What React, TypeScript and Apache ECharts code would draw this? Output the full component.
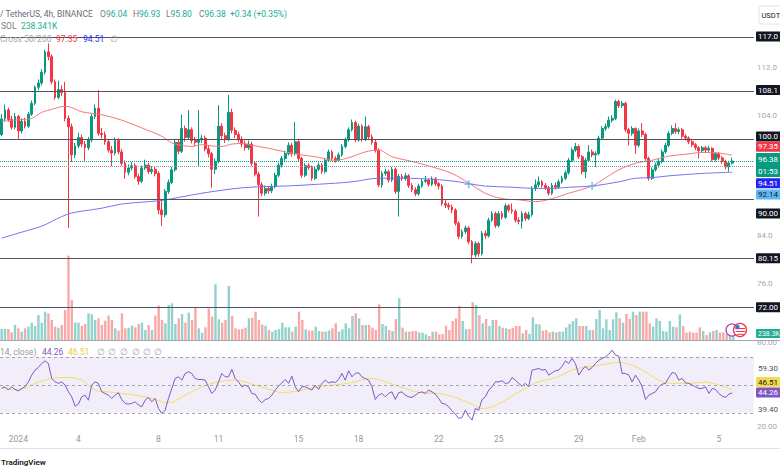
import React, { useEffect, useRef } from "react";
import * as echarts from "echarts";

// ---------- DATA ----------
const startTime = Date.UTC(2023, 11, 31, 4, 0); // first visible 4h candle
const slotCount = 226; // 220 candles + right offset
const firstOpen = 100.8;

const closes = [
  103.4, 104.9, 103.3, 102.0, 103.8, 101.4, 103.0, 102.2, 104.2, 106.0,
  108.7, 109.4, 111.2, 114.6, 113.8, 109.6, 107.0, 108.3, 107.8, 103.5,
  102.1, 97.4, 98.9, 100.3, 99.2, 98.6, 99.9, 103.8, 105.2, 101.0,
  100.8, 99.6, 98.2, 97.7, 99.8, 97.9, 96.0, 94.5, 95.2, 95.6,
  93.8, 93.0, 95.2, 95.7, 94.6, 95.0, 94.3, 88.2, 87.4, 91.3,
  92.8, 94.9, 99.5, 98.0, 101.8, 100.3, 101.6, 99.8, 99.5, 99.9,
  100.2, 98.4, 97.6, 95.0, 96.3, 102.2, 100.6, 100.0, 104.5, 101.5,
  100.8, 100.0, 99.2, 98.6, 99.2, 96.0, 94.2, 92.4, 91.0, 91.8,
  91.4, 92.1, 94.0, 95.7, 96.8, 97.6, 99.0, 97.6, 99.6, 96.8,
  94.0, 95.6, 95.3, 93.5, 95.0, 95.7, 94.6, 96.5, 97.9, 96.8,
  96.5, 97.4, 98.8, 99.9, 101.6, 102.8, 99.9, 102.2, 100.0, 102.1,
  100.4, 99.5, 98.2, 92.4, 94.3, 94.6, 93.2, 95.0, 91.3, 93.8,
  93.4, 93.9, 92.3, 91.6, 90.9, 92.2, 93.0, 93.2, 92.5, 93.4,
  92.6, 92.2, 89.3, 89.0, 88.7, 88.2, 86.0, 83.8, 84.6, 85.2,
  82.9, 80.7, 82.6, 80.9, 84.3, 83.9, 86.5, 87.6, 85.6, 87.6,
  87.0, 88.9, 88.2, 88.0, 86.5, 86.3, 87.6, 86.8, 87.4, 91.8,
  92.4, 92.9, 92.3, 91.9, 91.0, 92.3, 92.0, 92.9, 93.5, 94.4,
  96.5, 98.2, 98.8, 97.1, 94.6, 96.5, 97.9, 97.4, 97.6, 100.2,
  101.8, 102.1, 103.2, 103.5, 106.3, 105.6, 106.0, 101.6, 101.0, 101.8,
  99.0, 101.4, 100.8, 96.8, 93.5, 94.9, 95.7, 96.3, 97.9, 99.0,
  101.0, 101.8, 101.3, 101.6, 100.5, 100.2, 99.6, 99.1, 98.6, 98.1,
  98.6, 98.2, 98.5, 96.6, 97.6, 96.9, 96.3, 95.4, 96.04, 96.38,
];

const highs = [
  104.2, 105.8, 105.3, 103.9, 104.4, 104.1, 103.5, 103.6, 104.6, 106.5,
  109.0, 110.0, 111.7, 114.9, 116.0, 114.2, 110.0, 109.8, 109.0, 109.6,
  104.0, 102.6, 99.4, 101.1, 100.8, 99.7, 100.4, 104.3, 105.8, 108.2,
  101.9, 101.3, 100.1, 98.9, 100.3, 100.2, 98.4, 96.5, 95.8, 96.2,
  96.0, 94.3, 95.6, 96.6, 96.1, 95.5, 95.4, 94.7, 89.9, 91.7,
  93.3, 95.4, 99.9, 99.9, 104.1, 102.3, 104.9, 102.0, 100.4, 104.9,
  100.7, 100.6, 98.9, 97.9, 96.8, 105.7, 102.7, 101.1, 107.4, 105.1,
  102.0, 101.3, 100.5, 99.8, 99.8, 99.6, 96.4, 94.6, 92.9, 92.3,
  92.2, 92.6, 94.4, 96.1, 97.2, 98.1, 99.5, 99.4, 102.9, 100.0,
  97.1, 96.0, 96.0, 95.6, 95.4, 96.1, 96.0, 96.9, 98.3, 98.2,
  97.2, 97.8, 99.2, 100.3, 102.0, 103.3, 103.1, 102.6, 102.5, 103.8,
  102.4, 100.8, 99.9, 98.5, 94.7, 95.1, 94.9, 95.4, 95.3, 94.2,
  94.2, 94.4, 94.2, 92.7, 92.0, 92.6, 93.4, 93.9, 93.5, 93.8,
  93.7, 92.9, 92.5, 90.0, 89.4, 89.1, 88.5, 86.3, 85.0, 85.6,
  85.5, 83.2, 83.0, 82.9, 84.7, 84.8, 86.9, 88.0, 87.9, 88.0,
  88.0, 89.3, 89.2, 89.3, 88.3, 87.0, 88.0, 87.9, 87.9, 92.2,
  93.3, 93.8, 93.2, 92.7, 92.2, 92.7, 92.8, 93.3, 93.9, 94.8,
  96.9, 98.6, 99.4, 99.1, 97.4, 96.9, 99.0, 98.3, 98.0, 100.6,
  102.2, 102.6, 103.8, 104.0, 106.6, 106.6, 106.4, 106.3, 101.9, 102.2,
  102.0, 101.8, 102.7, 101.1, 97.1, 95.3, 96.1, 96.7, 98.3, 99.4,
  101.4, 102.3, 102.7, 102.0, 101.9, 100.9, 100.5, 99.9, 99.4, 98.9,
  98.9, 98.9, 98.9, 98.7, 97.9, 97.9, 97.2, 96.6, 96.4, 96.93,
];

const lows = [
  100.5, 103.0, 102.9, 101.6, 101.7, 99.9, 101.0, 101.8, 101.9, 103.9,
  105.7, 108.2, 109.0, 110.8, 113.2, 109.2, 106.6, 106.7, 107.2, 103.0,
  85.2, 96.2, 96.9, 98.5, 98.7, 96.4, 98.2, 99.5, 103.4, 100.6,
  100.1, 99.1, 97.8, 95.5, 97.3, 97.5, 95.6, 93.4, 94.0, 94.8,
  93.4, 92.4, 92.7, 94.9, 94.2, 94.2, 93.8, 87.5, 85.5, 87.0,
  90.9, 92.5, 94.6, 97.5, 97.7, 99.6, 99.9, 99.3, 98.9, 95.5,
  99.4, 98.0, 97.0, 91.9, 94.2, 96.0, 100.0, 99.4, 99.7, 101.0,
  100.2, 99.5, 98.7, 98.1, 98.2, 95.6, 93.8, 87.1, 90.5, 90.6,
  90.9, 91.0, 91.8, 93.7, 95.3, 96.4, 97.3, 97.1, 97.3, 96.4,
  93.6, 93.7, 94.9, 93.1, 93.2, 94.7, 94.2, 94.3, 96.2, 96.4,
  96.1, 96.2, 97.1, 98.5, 99.6, 101.3, 99.5, 99.6, 99.6, 99.7,
  100.0, 99.1, 97.8, 92.0, 91.9, 93.9, 92.8, 92.9, 90.9, 87.1,
  93.0, 93.1, 91.9, 91.2, 90.5, 90.6, 91.9, 92.7, 92.1, 92.2,
  92.2, 91.6, 88.9, 88.5, 88.2, 87.7, 85.6, 83.3, 83.4, 84.2,
  82.5, 79.3, 80.3, 80.4, 80.6, 83.4, 83.6, 86.2, 85.2, 85.3,
  86.6, 86.7, 87.8, 87.6, 86.1, 85.8, 85.1, 86.4, 86.5, 87.1,
  91.4, 92.0, 91.9, 91.5, 90.6, 90.7, 91.6, 91.7, 92.6, 93.2,
  94.1, 96.2, 97.9, 96.7, 94.2, 93.5, 96.2, 97.0, 95.4, 97.3,
  99.9, 101.4, 101.8, 102.8, 103.2, 105.2, 105.2, 101.2, 99.0, 100.6,
  97.6, 98.7, 100.4, 96.4, 93.1, 93.2, 94.6, 95.3, 96.0, 97.6,
  98.7, 100.7, 100.9, 100.9, 100.1, 99.8, 99.2, 98.7, 98.2, 96.8,
  97.8, 97.8, 97.9, 96.3, 96.3, 96.5, 95.9, 95.0, 94.6, 95.80,
];

// volume in thousands of SOL
const volumes = [
  440, 440, 440, 306, 600, 466, 334, 466, 534, 694,
  560, 1000, 694, 1134, 1066, 800, 534, 494, 600, 1200,
  3374, 1600, 694, 694, 560, 640, 1066, 1026, 800, 866,
  600, 774, 974, 800, 466, 374, 1066, 466, 494, 574,
  506, 640, 694, 400, 600, 400, 974, 1374, 800, 666,
  1400, 1466, 640, 866, 1040, 694, 1094, 800, 1294, 466,
  294, 506, 1266, 934, 2226, 826, 694, 800, 2160, 974,
  466, 426, 440, 494, 866, 894, 1134, 800, 620, 574,
  400, 334, 400, 440, 694, 506, 506, 334, 534, 1134,
  800, 426, 374, 374, 534, 360, 334, 334, 374, 466,
  666, 334, 426, 666, 466, 960, 1066, 866, 600, 600,
  600, 494, 400, 1426, 640, 560, 400, 360, 840, 1666,
  494, 334, 334, 360, 360, 306, 294, 226, 160, 334,
  334, 226, 240, 574, 400, 760, 866, 1360, 760, 440,
  440, 1506, 1400, 1000, 666, 840, 560, 800, 800, 560,
  494, 466, 440, 494, 560, 560, 266, 400, 240, 906,
  640, 626, 374, 400, 306, 334, 306, 334, 334, 506,
  640, 760, 866, 560, 560, 560, 400, 400, 840, 1200,
  466, 826, 400, 826, 1106, 866, 694, 1040, 840, 1134,
  1000, 1134, 1134, 1134, 666, 534, 866, 760, 360, 334,
  760, 534, 506, 1026, 560, 294, 334, 294, 294, 506,
  360, 200, 306, 360, 400, 294, 306, 240, 200, 238.341,
];

const rsiValues = [
  47.4, 48.6, 46.2, 48.6, 46.7, 45.7, 47.4, 48.6, 52.1, 56.9,
  60.5, 62.4, 65.2, 67.1, 65.2, 54.5, 52.1, 51.0, 52.1, 49.8,
  45.0, 41.4, 34.8, 36.2, 41.4, 42.6, 39.0, 49.8, 52.1, 51.0,
  45.0, 43.8, 42.6, 40.2, 42.6, 44.3, 39.5, 36.7, 36.2, 36.7,
  37.9, 35.5, 34.3, 39.0, 41.0, 37.9, 40.2, 33.1, 29.5, 31.9,
  40.2, 47.4, 54.5, 55.7, 53.3, 58.1, 59.3, 58.1, 54.5, 53.8,
  53.8, 53.3, 48.6, 43.8, 46.2, 52.1, 58.1, 55.7, 55.7, 61.0,
  54.5, 52.1, 48.6, 49.8, 48.6, 43.8, 43.3, 39.5, 37.1, 39.5,
  40.2, 42.6, 46.2, 49.0, 51.4, 53.8, 51.0, 56.2, 48.6, 45.0,
  48.6, 48.6, 47.4, 46.2, 49.8, 46.7, 51.0, 53.3, 51.4, 52.1,
  51.7, 53.8, 58.1, 53.3, 60.0, 55.7, 58.1, 58.6, 55.7, 54.5,
  53.3, 48.6, 39.5, 42.6, 43.8, 41.4, 43.8, 45.0, 39.5, 44.3,
  45.0, 42.6, 41.4, 41.0, 42.6, 44.3, 45.0, 43.8, 46.2, 45.0,
  43.3, 40.2, 36.7, 36.2, 34.3, 31.4, 29.0, 26.0, 26.7, 31.9,
  27.6, 24.8, 33.1, 31.9, 39.5, 41.4, 46.2, 48.6, 52.1, 52.1,
  52.9, 51.0, 51.4, 55.2, 53.3, 51.0, 49.0, 51.0, 48.6, 60.5,
  61.0, 61.7, 60.5, 61.0, 56.9, 58.6, 60.0, 60.5, 63.3, 67.1,
  65.2, 68.8, 65.2, 56.9, 60.5, 63.3, 60.5, 62.4, 65.2, 67.6,
  68.8, 70.0, 71.9, 74.8, 71.2, 70.5, 58.1, 58.1, 56.9, 52.1,
  56.9, 53.3, 48.6, 39.5, 42.6, 43.8, 45.0, 48.6, 50.5, 51.0,
  55.2, 58.8, 58.1, 53.3, 54.5, 51.4, 51.0, 49.8, 48.6, 47.4,
  47.4, 48.6, 43.8, 47.4, 46.7, 43.8, 41.9, 41.0, 43.3, 44.26,
];

// [candle index, value]
const rsiMaPoints = [
  [0, 48.6], [5, 46.2], [10, 51.0], [15, 54.5], [20, 55.2], [24, 53.3], [28, 46.2],
  [32, 45.0], [36, 43.8], [40, 42.6], [45, 40.2], [50, 37.1], [55, 42.6], [60, 48.6],
  [65, 52.1], [70, 53.3], [76, 49.8], [81, 46.2], [84, 44.5], [87, 45.0], [91, 46.7],
  [96, 49.0], [101, 50.2], [106, 52.1], [110, 54.5], [113, 53.8], [116, 51.4],
  [121, 47.4], [126, 44.3], [131, 43.8], [136, 41.0], [141, 36.2], [144, 33.1],
  [147, 34.3], [151, 39.0], [156, 46.2], [161, 52.1], [166, 55.0], [171, 60.5],
  [176, 62.9], [181, 64.8], [185, 66.0], [189, 64.0], [193, 59.3], [197, 53.3],
  [201, 51.0], [206, 51.0], [211, 51.9], [215, 49.8], [219, 46.51],
];

const ma50Points = [
  [0, 103.0], [6, 103.3], [9, 103.5], [12, 104.5], [15, 105.0], [19, 105.5], [21, 105.3],
  [24, 104.6], [30, 104.1], [36, 103.2], [42, 101.9], [48, 100.5], [51, 99.4], [54, 99.0],
  [57, 98.8], [60, 99.1], [63, 98.9], [66, 98.8], [69, 99.2], [72, 99.3], [75, 99.0],
  [80, 98.5], [85, 97.9], [90, 97.4], [95, 97.0], [100, 96.5], [105, 97.1], [109, 97.9],
  [113, 98.2], [117, 97.1], [123, 96.3], [129, 95.4], [135, 94.3], [140, 92.7],
  [145, 91.0], [150, 90.1], [155, 89.9], [160, 89.6], [165, 90.1], [170, 91.0],
  [177, 92.2], [180, 93.2], [185, 94.9], [190, 96.0], [195, 96.5], [200, 97.2],
  [205, 97.5], [210, 97.8], [215, 97.7], [219, 97.35],
];

const ma200Points = [
  [0, 83.5], [6, 84.5], [12, 85.5], [18, 87.1], [21, 87.7], [24, 88.0], [30, 88.5],
  [36, 89.2], [42, 89.5], [48, 89.8], [54, 90.4], [60, 91.0], [66, 91.5], [72, 91.9],
  [78, 92.1], [85, 92.2], [95, 92.5], [105, 92.9], [113, 93.5], [120, 93.5], [130, 93.3],
  [137, 92.9], [141, 92.5], [145, 92.2], [153, 92.0], [160, 91.8], [165, 91.8],
  [170, 92.0], [177, 92.2], [185, 92.9], [190, 93.5], [195, 93.6], [200, 93.9],
  [210, 94.3], [219, 94.51],
];

const crossPoints = [[140, 92.5], [177, 92.2]];

const levelValues = [117.0, 108.1, 100.0, 90.0, 80.15, 72.0];
const levelLabels = ["117.0", "108.1", "100.0", "90.00", "80.15", "72.00"];
const lastPrice = 96.38;
const prevCloseLevel = 95.55;

const priceTicks = [76, 84, 104, 112];
const rsiTicks = [20, 80];
const rsiLevels = [70, 50, 30];

const timeTickDates = [
  "2024-01-01", "2024-01-04", "2024-01-08", "2024-01-11", "2024-01-15", "2024-01-18",
  "2024-01-22", "2024-01-25", "2024-01-29", "2024-02-01", "2024-02-05",
];
const timeTickLabels = ["2024", "4", "8", "11", "15", "18", "22", "25", "29", "Feb", "5"];

// ---------- BUILD ----------
const pad = (n: number) => String(n).padStart(2, "0");
const categories = Array.from({ length: slotCount }, (_, k) => {
  const d = new Date(startTime + k * 4 * 3600 * 1000);
  return `${d.getUTCFullYear()}-${pad(d.getUTCMonth() + 1)}-${pad(d.getUTCDate())} ${pad(d.getUTCHours())}:00`;
});
const tickMap = new Map<number, string>();
timeTickDates.forEach((d, j) => tickMap.set(categories.indexOf(d + " 00:00"), timeTickLabels[j]));

const opens = closes.map((c, i) => (i === 0 ? firstOpen : closes[i - 1]));
const candleData = closes.map((c, i) => [opens[i], c, lows[i], highs[i]]);
const volumeData = volumes.map((v, i) => ({
  value: v,
  itemStyle: { color: closes[i] >= opens[i] ? "rgba(38,166,154,0.5)" : "rgba(239,83,80,0.5)" },
}));
const toCat = (pts: number[][]) => pts.map(([i, v]) => [categories[i], v]);

const FONT = 'Roboto, "Noto Sans", sans-serif';
const UP = "#089981";
const DOWN = "#f23645";
const GRID_RIGHT = 25;
const AXIS_X = 780 - GRID_RIGHT;

const T = (x: number, y: number, text: string, fill: string, o: any = {}) => ({
  type: "text",
  x,
  y,
  silent: true,
  z: 100,
  style: {
    text,
    fill,
    fontSize: o.size ?? 8.5,
    fontFamily: FONT,
    fontWeight: o.weight ?? "normal",
    textAlign: o.align ?? "left",
    align: o.align ?? "left",
    textVerticalAlign: "middle",
    verticalAlign: "middle",
  },
});
const BOX = (cy: number, h: number, bg: string) => ({
  type: "rect",
  silent: true,
  z: 99,
  shape: { x: AXIS_X + 1, y: cy - h / 2, width: 30, height: h, r: 1 },
  style: { fill: bg },
});
const LX = AXIS_X + 3;
const AX = (y: number, text: string, color: string, size = 8) => T(LX, y, text, color, { size });

const boxLabels = [
  { y: 36.5, h: 10, bg: "#131722", text: levelLabels[0], color: "#ffffff" },
  { y: 90, h: 10, bg: "#131722", text: levelLabels[1], color: "#ffffff" },
  { y: 136.5, h: 10, bg: "#131722", text: levelLabels[2], color: "#ffffff" },
  { y: 146.8, h: 10, bg: DOWN, text: "97.35", color: "#ffffff" },
  { y: 183.3, h: 10, bg: "#2424f0", text: "94.51", color: "#ffffff" },
  { y: 194.5, h: 10, bg: "#5cb8f2", text: "92.14", color: "#131722" },
  { y: 213.5, h: 10, bg: "#131722", text: levelLabels[3], color: "#ffffff" },
  { y: 258.3, h: 10, bg: "#131722", text: levelLabels[4], color: "#ffffff" },
  { y: 307.3, h: 10, bg: "#131722", text: levelLabels[5], color: "#ffffff" },
  { y: 382, h: 10, bg: "#f5d94e", text: "46.51", color: "#131722" },
  { y: 392.5, h: 10, bg: "#7e57c2", text: "44.26", color: "#ffffff" },
];

const graphics: any[] = [
  // legend
  T(0, 14, "/ TetherUS, 4h, BINANCE", "#6a6d78"),
  T(100, 14, "O", "#787b86"), T(106, 14, "96.04", "#22ab94"),
  T(133, 14, "H", "#787b86"), T(139, 14, "96.93", "#22ab94"),
  T(166, 14, "L", "#787b86"), T(170.5, 14, "95.80", "#22ab94"),
  T(199, 14, "C", "#787b86"), T(204.5, 14, "96.38", "#22ab94"),
  T(230, 14, "+0.34 (+0.35%)", "#22ab94"),
  T(1, 26, "SOL", "#787b86"), T(21, 26, "238.341K", "#22ab94"),
  T(0, 39, "Cross 50/200", "#a3a6af"), T(56, 39, "97.35", DOWN), T(83, 39, "94.51", "#2a2af0"),
  T(110, 39, "∅", "#a3a6af"),
  T(0, 352, "14, close)", "#9598a1"), T(42, 352, "44.26", "#7e57c2"), T(68, 352, "46.51", "#e9cb3c"),
  ...[97, 108, 120, 132, 143, 154].map((x) => T(x, 352, "∅", "#a3a6af")),
  // separators
  { type: "line", silent: true, z: 50, shape: { x1: 0, y1: 340.5, x2: 780, y2: 340.5 }, style: { stroke: "#a3a6af", lineWidth: 1 } },
  { type: "line", silent: true, z: 50, shape: { x1: 0, y1: 448.5, x2: 780, y2: 448.5 }, style: { stroke: "#e0e3eb", lineWidth: 1 } },
  // right axis label boxes
  ...boxLabels.flatMap((b) => [BOX(b.y, b.h, b.bg), AX(b.y, b.text, b.color)]),
  BOX(165, 24, UP),
  AX(159.5, "96.38", "#ffffff"),
  AX(171, "01:53", "#ffffff"),
  BOX(333.5, 9, "#22ab94"),
  AX(333.5, "238.3K", "#ffffff", 7),
  AX(368, "59.30", "#50535e"),
  AX(409, "39.40", "#50535e"),
  // currency button
  { type: "rect", silent: true, z: 99, shape: { x: 759, y: 6, width: 32, height: 18, r: 3 }, style: { fill: "#ffffff", stroke: "#e0e3eb", lineWidth: 1 } },
  T(761.5, 15, "USDT", "#131722", { size: 7.5 }),
  // event icons
  { type: "circle", silent: true, z: 98, shape: { cx: 732, cy: 330, r: 6 }, style: { fill: "#ffffff", stroke: "#ab47bc", lineWidth: 1.3 } },
  { type: "circle", silent: true, z: 98, shape: { cx: 740, cy: 330, r: 6.5 }, style: { fill: "#ffffff", stroke: DOWN, lineWidth: 1.3 } },
  { type: "line", silent: true, z: 99, shape: { x1: 736, y1: 328.5, x2: 745, y2: 328.5 }, style: { stroke: DOWN, lineWidth: 1 } },
  { type: "line", silent: true, z: 99, shape: { x1: 735.5, y1: 331.5, x2: 745.5, y2: 331.5 }, style: { stroke: DOWN, lineWidth: 1 } },
  { type: "line", silent: true, z: 99, shape: { x1: 737, y1: 334.3, x2: 744, y2: 334.3 }, style: { stroke: DOWN, lineWidth: 1 } },
  { type: "rect", silent: true, z: 99, shape: { x: 735.3, y: 325.2, width: 4.2, height: 4 }, style: { fill: "#3c6ee8" } },
  // watermark
  T(1, 462.5, "TradingView", "#131722", { size: 8, weight: 600 }),
];

const hiddenCat = (gridIndex: number) => ({
  type: "category",
  gridIndex,
  data: categories,
  boundaryGap: true,
  axisLine: { show: false },
  axisTick: { show: false },
  axisLabel: { show: false },
  splitLine: { show: false },
});

const option: any = {
  animation: false,
  backgroundColor: "#ffffff",
  grid: [
    { left: 0, right: GRID_RIGHT, top: 19.5, height: 311.5 },
    { left: 0, right: GRID_RIGHT, top: 240, height: 100 },
    { left: 0, right: GRID_RIGHT, top: 341, height: 89 },
  ],
  xAxis: [
    hiddenCat(0),
    hiddenCat(1),
    {
      ...hiddenCat(2),
      axisLabel: {
        show: true,
        interval: (idx: number) => tickMap.has(idx),
        formatter: (_v: string, idx: number) => tickMap.get(idx) ?? "",
        color: "#9598a1",
        fontSize: 8.5,
        fontFamily: FONT,
        margin: 4,
      },
    },
  ],
  yAxis: [
    {
      type: "value",
      gridIndex: 0,
      position: "right",
      min: 68,
      max: 120,
      splitLine: { show: false },
      axisLine: { show: false },
      axisTick: { show: false },
      axisLabel: {
        customValues: priceTicks,
        formatter: (v: number) => v.toFixed(1),
        color: "#a3a6af",
        fontSize: 8,
        fontFamily: FONT,
        margin: 3,
      },
    },
    { type: "value", gridIndex: 1, min: 0, max: 4000, show: false, splitLine: { show: false } },
    {
      type: "value",
      gridIndex: 2,
      position: "right",
      min: 17.7,
      max: 81.3,
      splitLine: { show: false },
      axisLine: { show: false },
      axisTick: { show: false },
      axisLabel: {
        customValues: rsiTicks,
        formatter: (v: number) => v.toFixed(2),
        color: "#a3a6af",
        fontSize: 8,
        fontFamily: FONT,
        margin: 3,
      },
    },
  ],
  series: [
    {
      type: "bar",
      name: "Volume",
      xAxisIndex: 1,
      yAxisIndex: 1,
      data: volumeData,
      barWidth: 2.4,
      z: 1,
      silent: true,
    },
    {
      type: "candlestick",
      name: "SOL/USDT",
      xAxisIndex: 0,
      yAxisIndex: 0,
      data: candleData,
      barWidth: 2.3,
      z: 3,
      silent: true,
      itemStyle: { color: UP, color0: DOWN, borderColor: UP, borderColor0: DOWN, borderWidth: 1 },
      markLine: {
        silent: true,
        symbol: ["none", "none"],
        label: { show: false },
        data: [
          ...levelValues.map((v) => ({ yAxis: v, lineStyle: { color: "#50535e", width: 1.2, type: "solid" } })),
          { yAxis: lastPrice, lineStyle: { color: UP, width: 1, type: "dotted" } },
          { yAxis: prevCloseLevel, lineStyle: { color: "#9598a1", width: 1, type: "dotted" } },
        ],
      },
    },
    {
      type: "line",
      name: "MA50",
      xAxisIndex: 0,
      yAxisIndex: 0,
      data: toCat(ma50Points),
      smooth: 0.35,
      showSymbol: false,
      silent: true,
      z: 4,
      lineStyle: { color: "#f5777b", width: 1 },
    },
    {
      type: "line",
      name: "MA200",
      xAxisIndex: 0,
      yAxisIndex: 0,
      data: toCat(ma200Points),
      smooth: 0.35,
      showSymbol: false,
      silent: true,
      z: 4,
      lineStyle: { color: "#7474f4", width: 1 },
    },
    {
      type: "scatter",
      name: "Cross",
      xAxisIndex: 0,
      yAxisIndex: 0,
      data: toCat(crossPoints),
      symbol: "path://M4,0 H6 V4 H10 V6 H6 V10 H4 V6 H0 V4 H4 Z",
      symbolSize: 8,
      silent: true,
      z: 5,
      itemStyle: { color: "#5db5f0" },
    },
    {
      type: "line",
      name: "RSI",
      xAxisIndex: 2,
      yAxisIndex: 2,
      data: rsiValues,
      showSymbol: false,
      silent: true,
      z: 4,
      lineStyle: { color: "#7e57c2", width: 1 },
      markArea: {
        silent: true,
        itemStyle: { color: "rgba(126,87,194,0.1)" },
        data: [[{ yAxis: rsiLevels[0] }, { yAxis: rsiLevels[2] }]],
      },
      markLine: {
        silent: true,
        symbol: ["none", "none"],
        label: { show: false },
        lineStyle: { color: "#a3a6af", width: 1, type: [3, 3] },
        data: rsiLevels.map((v) => ({ yAxis: v })),
      },
    },
    {
      type: "line",
      name: "RSI MA",
      xAxisIndex: 2,
      yAxisIndex: 2,
      data: toCat(rsiMaPoints),
      smooth: 0.35,
      showSymbol: false,
      silent: true,
      z: 3,
      lineStyle: { color: "#f3dc62", width: 1 },
    },
  ],
  graphic: graphics,
};

export default function App() {
  const ref = useRef<HTMLDivElement>(null);
  useEffect(() => {
    document.body.style.margin = "0";
    const chart = echarts.init(ref.current!, undefined, { renderer: "svg", width: 780, height: 470 });
    chart.setOption(option);
    return () => chart.dispose();
  }, []);
  return <div ref={ref} style={{ width: 780, height: 470, overflow: "hidden" }} />;
}
